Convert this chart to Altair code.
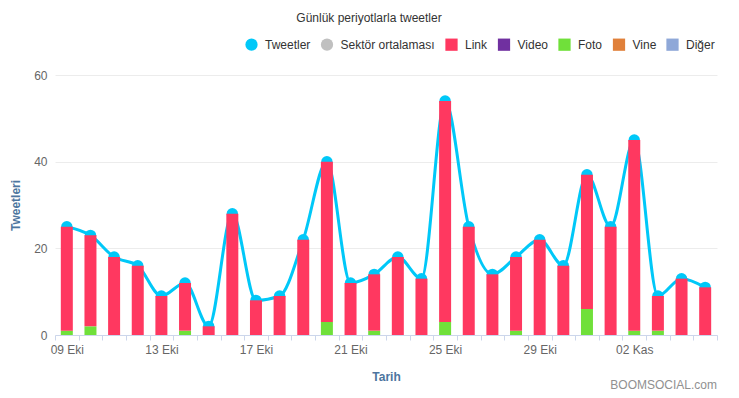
import altair as alt
import pandas as pd

dates = ["09 Eki", "10 Eki", "11 Eki", "12 Eki", "13 Eki", "14 Eki", "15 Eki",
         "16 Eki", "17 Eki", "18 Eki", "19 Eki", "20 Eki", "21 Eki", "22 Eki",
         "23 Eki", "24 Eki", "25 Eki", "26 Eki", "27 Eki", "28 Eki", "29 Eki",
         "30 Eki", "31 Eki", "01 Kas", "02 Kas", "03 Kas", "04 Kas", "05 Kas"]
tweets = [25, 23, 18, 16, 9, 12, 2, 28, 8, 9, 22, 40, 12, 14,
          18, 13, 54, 25, 14, 18, 22, 16, 37, 25, 45, 9, 13, 11]
foto = [1, 2, 0, 0, 0, 1, 0, 0, 0, 0, 0, 3, 0, 1,
        0, 0, 3, 0, 0, 1, 0, 0, 6, 0, 1, 1, 0, 0]
link = [t - f for t, f in zip(tweets, foto)]

series_names = ["Tweetler", "Sektör ortalaması", "Link", "Video", "Foto", "Vine", "Diğer"]
series_colors = ["#00c8f8", "#c0c0c0", "#ff3860", "#7030a0", "#70e03a", "#e0803a", "#8fa8d8"]
series_shapes = ["circle", "circle", "square", "square", "square", "square", "square"]

FONT = "Liberation Sans"

line_df = pd.DataFrame({"date": dates, "value": tweets, "series": "Tweetler"})
bar_rows = []
for d, l, f in zip(dates, link, foto):
    bar_rows.append({"date": d, "value": f, "series": "Foto", "order": 0})
    bar_rows.append({"date": d, "value": l, "series": "Link", "order": 1})
bar_df = pd.DataFrame(bar_rows)

shown = [d for i, d in enumerate(dates) if i % 4 == 0]
label_expr = "indexof([" + ",".join("'%s'" % s for s in shown) + "], datum.value) >= 0 ? datum.value : ''"

x_enc = alt.X(
    "date:N", sort=dates,
    scale=alt.Scale(paddingInner=0, paddingOuter=0),
    axis=alt.Axis(
        title="Tarih", labelExpr=label_expr, labelAngle=0, tickBand="extent",
        domainColor="#ccd6eb", tickColor="#ccd6eb", tickSize=5, labelPadding=4,
        labelColor="#666666", labelFont=FONT, labelFontSize=12,
        titleColor="#4d759e", titleFont=FONT, titleFontSize=12, titleFontWeight="bold",
        titlePadding=16, grid=False,
    ),
)
y_axis = alt.Axis(
    title="Tweetleri", values=[0, 20, 40, 60], grid=True, gridColor="#ececec",
    domain=False, ticks=False, labelColor="#666666", labelFont=FONT, labelFontSize=12,
    labelPadding=8, titleColor="#4d759e", titleFont=FONT, titleFontSize=12,
    titleFontWeight="bold", titlePadding=11,
)
y_scale = alt.Scale(domain=[0, 60], nice=False)

color_scale = alt.Scale(domain=series_names, range=series_colors)
shape_scale = alt.Scale(domain=series_names, range=series_shapes)
legend = alt.Legend(
    title=None, orient="none", legendX=190, legendY=-37, direction="horizontal",
    labelFont=FONT, labelFontSize=12, labelColor="#333333", symbolSize=150,
    symbolStrokeWidth=0, symbolOpacity=1, columnPadding=9.5, labelOffset=7,
)

line = alt.Chart(line_df).mark_line(interpolate="monotone", strokeWidth=3, color="#00c8f8").encode(
    x=x_enc,
    y=alt.Y("value:Q", scale=y_scale, axis=y_axis),
)
points = alt.Chart(line_df).mark_point(filled=True, size=130, opacity=1).encode(
    x=alt.X("date:N", sort=dates),
    y=alt.Y("value:Q", scale=y_scale),
    color=alt.Color("series:N", scale=color_scale, legend=legend),
    shape=alt.Shape("series:N", scale=shape_scale, legend=legend),
)
bars = alt.Chart(bar_df).mark_bar(size=12).encode(
    x=alt.X("date:N", sort=dates),
    y=alt.Y("value:Q", stack="zero", scale=y_scale),
    color=alt.Color("series:N", scale=color_scale, legend=legend),
    order=alt.Order("order:Q"),
)

credit = alt.Chart(pd.DataFrame({"t": ["BOOMSOCIAL.com"]})).mark_text(
    align="right", baseline="middle", font=FONT, fontSize=12, color="#909090"
).encode(text="t:N", x=alt.value(662), y=alt.value(50 + 260))

chart = alt.layer(line, points, bars, credit).properties(
    width=662, height=260,
    title=alt.TitleParams("Günlük periyotlarla tweetler", font=FONT, fontSize=12,
                          fontWeight="normal", color="#333333", anchor="middle",
                          dx=-17, offset=13),
    autosize=alt.AutoSizeParams(type="none"),
    padding={"left": 47, "top": 67, "right": 14, "bottom": 60},
).configure_view(stroke=None)

chart.save("out.html", embed_options={"renderer": "svg", "actions": False})
